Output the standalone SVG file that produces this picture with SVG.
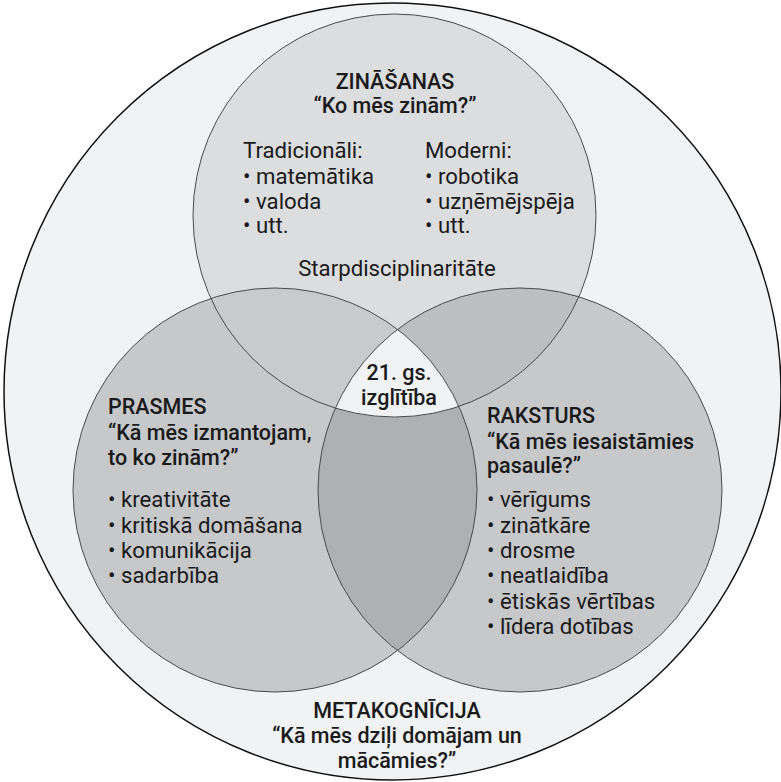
<svg xmlns="http://www.w3.org/2000/svg" width="781" height="782" viewBox="0 0 781 782">
  <style>
    text { font-family: Roboto, "Liberation Sans", sans-serif; fill: #1a1a1a; }
    .title { font-size: 21.5px; font-weight: 500; }
    .body { font-size: 22.2px; font-weight: 400; }
    .mid { text-anchor: middle; }
    .ring { fill: none; stroke: #4a4a4a; stroke-width: 1; }
  </style>
  <defs>
    <clipPath id="clipTop"><circle cx="394.5" cy="215.5" r="201.5"/></clipPath>
    <clipPath id="clipLeft"><circle cx="275" cy="490" r="202"/></clipPath>
    <clipPath id="clipRight"><circle cx="520" cy="490" r="202"/></clipPath>
  </defs>

  <rect width="781" height="782" fill="#ffffff"/>

  <!-- outer context: metacognition -->
  <g id="metakognicija">
    <circle cx="392.5" cy="391.5" r="388.5" fill="#f1f2f4" stroke="#111" stroke-width="1.5"/>
    <text class="title mid" x="397" y="718">METAKOGNĪCIJA</text>
    <text class="title mid" x="397" y="743">“Kā mēs dziļi domājam un</text>
    <text class="title mid" x="397" y="768">mācāmies?”</text>
  </g>

  <!-- base fills of the three sets -->
  <circle cx="394.5" cy="215.5" r="201.5" fill="#dcdddf"/>
  <circle cx="275" cy="490" r="202" fill="#c7c8ca"/>
  <circle cx="520" cy="490" r="202" fill="#c7c8ca"/>

  <!-- pairwise overlaps -->
  <g clip-path="url(#clipTop)">
    <circle cx="275" cy="490" r="202" fill="#c9cacc"/>
    <circle cx="520" cy="490" r="202" fill="#bdbec0"/>
  </g>
  <g clip-path="url(#clipLeft)">
    <circle cx="520" cy="490" r="202" fill="#afb0b2"/>
  </g>
  <!-- triple overlap -->
  <g clip-path="url(#clipTop)">
    <g clip-path="url(#clipLeft)">
      <circle cx="520" cy="490" r="202" fill="#f1f2f4"/>
    </g>
  </g>

  <!-- outlines -->
  <g id="outlines">
    <circle class="ring" cx="394.5" cy="215.5" r="201.5"/>
    <circle class="ring" cx="275" cy="490" r="202"/>
    <circle class="ring" cx="520" cy="490" r="202"/>
  </g>

  <g id="zinasanas">
    <text class="title mid" x="395" y="89">ZINĀŠANAS</text>
    <text class="title mid" x="395" y="113">“Ko mēs zinām?”</text>
    <text class="body" x="243" y="158">Tradicionāli:</text>
    <text class="body" x="243" y="184">• matemātika</text>
    <text class="body" x="243" y="209">• valoda</text>
    <text class="body" x="243" y="233">• utt.</text>
    <text class="body" x="425" y="158">Moderni:</text>
    <text class="body" x="425" y="184">• robotika</text>
    <text class="body" x="425" y="209">• uzņēmējspēja</text>
    <text class="body" x="425" y="233">• utt.</text>
    <text class="body mid" x="397" y="276">Starpdisciplinaritāte</text>
  </g>

  <g id="izglitiba">
    <text class="title mid" x="399" y="380">21. gs.</text>
    <text class="title mid" x="399" y="405">izglītība</text>
  </g>

  <g id="prasmes">
    <text class="title" x="108" y="414">PRASMES</text>
    <text class="title" x="108" y="440">“Kā mēs izmantojam,</text>
    <text class="title" x="108" y="465">to ko zinām?”</text>
    <text class="body" x="108" y="507">• kreativitāte</text>
    <text class="body" x="108" y="533">• kritiskā domāšana</text>
    <text class="body" x="108" y="558">• komunikācija</text>
    <text class="body" x="108" y="583">• sadarbība</text>
  </g>

  <g id="raksturs">
    <text class="title" x="487" y="423">RAKSTURS</text>
    <text class="title" x="487" y="449">“Kā mēs iesaistāmies</text>
    <text class="title" x="487" y="473">pasaulē?”</text>
    <text class="body" x="487" y="507">• vērīgums</text>
    <text class="body" x="487" y="533">• zinātkāre</text>
    <text class="body" x="487" y="558">• drosme</text>
    <text class="body" x="487" y="583">• neatlaidība</text>
    <text class="body" x="487" y="609">• ētiskās vērtības</text>
    <text class="body" x="487" y="634">• līdera dotības</text>
  </g>
</svg>
